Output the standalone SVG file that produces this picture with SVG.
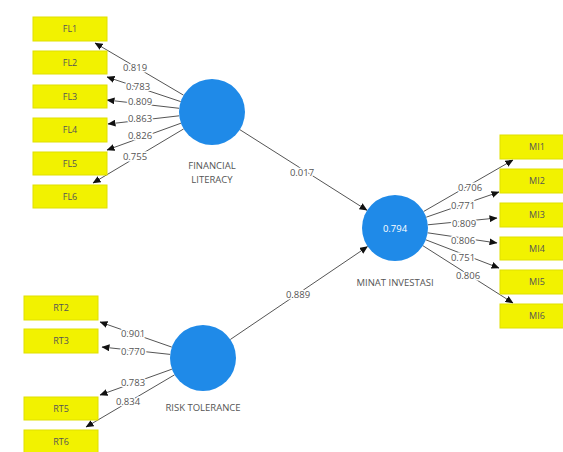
<svg xmlns="http://www.w3.org/2000/svg" width="563" height="452" viewBox="0 0 563 452">
<style>
.box{fill:#f2f200;stroke:#e0e000;stroke-width:1}
.bt{font-family:"Open Sans","Liberation Sans",sans-serif;font-size:9px;fill:#555;text-anchor:middle}
.lv{fill:#1f8ae8}
.lt{font-family:"Open Sans","Liberation Sans",sans-serif;font-size:9.5px;fill:#555;text-anchor:middle}
.wt{font-family:"Open Sans","Liberation Sans",sans-serif;font-size:9.5px;fill:#fff;text-anchor:middle}
.c line{stroke:#555;stroke-width:1;marker-end:url(#ah)}
.n{font-family:"Open Sans","Liberation Sans",sans-serif;font-size:9.5px;fill:#555;text-anchor:middle;stroke:#fff;stroke-width:3;paint-order:stroke}
</style>
<defs>
<marker id="ah" markerUnits="userSpaceOnUse" markerWidth="8" markerHeight="7" refX="7.5" refY="3.5" orient="auto">
<path d="M0,0 L8,3.5 L0,7 z" fill="#111"/>
</marker>
</defs>
<rect width="563" height="452" fill="#fff"/>
<g class="c">
<line x1="183.6" y1="95.2" x2="95" y2="43"/>
<line x1="180.7" y1="101.6" x2="107" y2="77"/>
<line x1="179.2" y1="108.3" x2="107" y2="100"/>
<line x1="179.2" y1="115.8" x2="108" y2="124"/>
<line x1="181" y1="123.2" x2="107" y2="150"/>
<line x1="183.7" y1="128.9" x2="93" y2="183"/>
<line x1="171.8" y1="347.1" x2="100" y2="322"/>
<line x1="170.2" y1="354.4" x2="102" y2="347"/>
<line x1="171.9" y1="369.2" x2="100" y2="395"/>
<line x1="174.6" y1="374.8" x2="86" y2="427"/>
<line x1="423.6" y1="211.5" x2="513" y2="160"/>
<line x1="426.2" y1="217.2" x2="499" y2="192"/>
<line x1="427.8" y1="224.8" x2="497" y2="218"/>
<line x1="427.6" y1="232.8" x2="497" y2="243"/>
<line x1="425.8" y1="239.8" x2="499" y2="268"/>
<line x1="422.9" y1="245.7" x2="513" y2="303"/>
<line x1="239.9" y1="129.7" x2="367" y2="210.3"/>
<line x1="230.3" y1="339.5" x2="367.5" y2="246.6"/>
<text class="n" x="135" y="71">0.819</text>
<text class="n" x="138" y="90">0.783</text>
<text class="n" x="140" y="105">0.809</text>
<text class="n" x="140" y="122">0.863</text>
<text class="n" x="140" y="139">0.826</text>
<text class="n" x="135" y="160">0.755</text>
<text class="n" x="133" y="337">0.901</text>
<text class="n" x="133" y="355">0.770</text>
<text class="n" x="133" y="386">0.783</text>
<text class="n" x="128" y="405">0.834</text>
<text class="n" x="470" y="191">0.706</text>
<text class="n" x="463" y="209">0.771</text>
<text class="n" x="464" y="227">0.809</text>
<text class="n" x="463" y="244">0.806</text>
<text class="n" x="463" y="261">0.751</text>
<text class="n" x="468" y="279">0.806</text>
<text class="n" x="302" y="176">0.017</text>
<text class="n" x="298" y="298">0.889</text>
</g>
<g id="FL1"><rect class="box" x="33" y="17" width="74" height="24"/><text class="bt" x="70" y="32">FL1</text></g>
<g id="FL2"><rect class="box" x="33" y="51" width="74" height="23"/><text class="bt" x="70" y="66">FL2</text></g>
<g id="FL3"><rect class="box" x="33" y="85" width="74" height="23"/><text class="bt" x="70" y="100">FL3</text></g>
<g id="FL4"><rect class="box" x="33" y="118" width="74" height="24"/><text class="bt" x="70" y="133">FL4</text></g>
<g id="FL5"><rect class="box" x="33" y="152" width="74" height="23"/><text class="bt" x="70" y="167">FL5</text></g>
<g id="FL6"><rect class="box" x="33" y="185" width="74" height="23"/><text class="bt" x="70" y="200">FL6</text></g>
<g id="RT2"><rect class="box" x="24" y="296" width="74" height="24"/><text class="bt" x="61" y="311">RT2</text></g>
<g id="RT3"><rect class="box" x="24" y="329" width="74" height="24"/><text class="bt" x="61" y="344">RT3</text></g>
<g id="RT5"><rect class="box" x="24" y="397" width="74" height="23"/><text class="bt" x="61" y="412">RT5</text></g>
<g id="RT6"><rect class="box" x="24" y="430" width="74" height="23"/><text class="bt" x="61" y="445">RT6</text></g>
<g id="MI1"><rect class="box" x="500" y="135" width="74" height="24"/><text class="bt" x="537" y="150">MI1</text></g>
<g id="MI2"><rect class="box" x="500" y="169" width="74" height="24"/><text class="bt" x="537" y="184">MI2</text></g>
<g id="MI3"><rect class="box" x="500" y="203" width="74" height="24"/><text class="bt" x="537" y="218">MI3</text></g>
<g id="MI4"><rect class="box" x="500" y="237" width="74" height="23"/><text class="bt" x="537" y="252">MI4</text></g>
<g id="MI5"><rect class="box" x="500" y="270" width="74" height="24"/><text class="bt" x="537" y="285">MI5</text></g>
<g id="MI6"><rect class="box" x="500" y="304" width="74" height="24"/><text class="bt" x="537" y="319">MI6</text></g>
<g id="FINANCIAL_LITERACY"><circle class="lv" cx="212" cy="112" r="33"/><text class="lt" x="212" y="169">FINANCIAL</text><text class="lt" x="212" y="183">LITERACY</text></g>
<g id="RISK_TOLERANCE"><circle class="lv" cx="203" cy="358" r="33"/><text class="lt" x="203" y="411">RISK TOLERANCE</text></g>
<g id="MINAT_INVESTASI"><circle class="lv" cx="395" cy="228" r="33"/><text class="wt" x="395" y="232">0.794</text><text class="lt" x="395" y="286">MINAT INVESTASI</text></g>
</svg>
